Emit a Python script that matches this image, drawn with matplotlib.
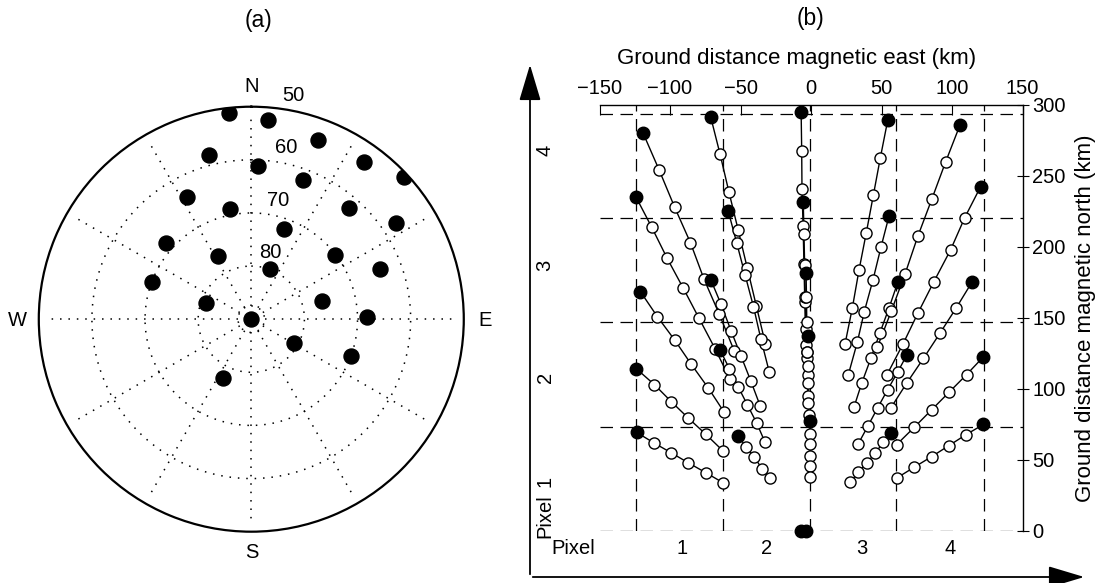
import numpy as np
import matplotlib
matplotlib.use('Agg')
import matplotlib.pyplot as plt

plt.rcParams['font.family'] = ['Liberation Sans', 'DejaVu Sans']

# (a) beam directions: azimuth (deg clockwise from N) and elevation (deg)
beam_az = [353.9, 4.9, 20.5, 345.5, 2.6, 35.6, 47.1, 20.3, 332.2, 349.0, 41.4, 20.2, 56.4,
           311.7, 332.4, 52.5, 20.4, 68.7, 290.7, 290.3, 75.3, 0.0, 88.8, 118.7, 110.3, 205.8]
beam_el = [50.9, 52.3, 53.9, 58.1, 61.2, 53.7, 50.8, 62.0, 63.9, 68.9, 62.1, 71.9, 57.3,
           68.5, 76.5, 70.1, 79.9, 63.9, 70.0, 81.0, 76.3, 90.0, 68.2, 80.8, 70.0, 77.6]
ring_labels = [50, 60, 70, 80]

# (b) beam tracks: first point is the filled one, the rest are open circles (km)
pixel1_tracks = [
    ([-119, -107.6, -96.7, -85.5, -75.9, -65, -54.4], [280, 254, 228, 203, 177.4, 152.6, 126.7]),
    ([-124.3, -113, -102, -90.6, -79.4, -68, -57.4], [235.5, 214, 192, 171, 149.8, 128.3, 106.9]),
    ([-121, -109, -96.7, -85, -72.7, -61.5], [168.6, 151, 134.5, 117.5, 100.5, 83.5]),
    ([-124, -111, -99, -87, -74.5, -62.5], [114.4, 103, 91, 79.5, 68, 56.5]),
    ([-123.6, -111, -99, -87, -74.5, -62.4], [69.4, 61.8, 55, 48, 41, 34]),
]
pixel2_tracks = [
    ([-71.1, -64.5, -58.2, -51.6, -45.2, -38.8, -32.4], [291.4, 265.4, 238.7, 211.8, 185.2, 158.6, 132]),
    ([-58.7, -52.7, -46.8, -40.8, -35.5, -29.6], [225.3, 202.9, 180.5, 158, 135, 112]),
    ([-71.1, -63.8, -56.7, -49.6, -42.6, -36], [177, 159.7, 141, 123.1, 105.4, 88]),
    ([-64.5, -57.9, -51.6, -45.2, -38.5, -32.6], [127.4, 114.4, 101.4, 89, 76, 62.5]),
    ([-51.6, -46, -40.3, -34.7, -29.2], [66.7, 59.3, 51.9, 44, 37]),
]
center_tracks = [
    ([-7, -6.6, -6.4, -5.6, -5, -4.4, -3.8], [295, 267.7, 241, 214.5, 188, 161.5, 131]),
    ([-5.5, -5, -4.5, -4, -3.5, -3], [232, 209.5, 187, 164.5, 142, 122]),
    ([-3.5, -3.2, -3, -2.7, -2.4, -2.1], [182, 164.5, 147, 126, 110, 95]),
    ([-2.3, -2.5, -2.3, -2.1, -1.9, -1.7], [137, 126, 116, 104, 90, 82]),
    ([-0.7, -0.7, -0.7, -0.6, -0.6, -0.5], [77.4, 68.4, 61.4, 53.1, 46, 38.2]),
]
pixel3_tracks = [
    ([54.4, 49.2, 44.2, 39.2, 34, 29.3, 24.1], [289.2, 263, 236.4, 210, 183.5, 157, 131.6]),
    ([55.3, 49.6, 44, 37.8, 32.8, 26.5], [221.7, 199.8, 177, 154.5, 132.8, 110.2]),
    ([61.5, 55.3, 48.9, 42.6, 36, 30.5], [175, 157, 139.6, 122, 104.2, 87.3]),
    ([67.9, 61.5, 54.4, 47.3, 40.2, 33.5], [123.8, 112, 99.6, 86.8, 73.6, 61.4]),
    ([56.5, 51.3, 45.4, 39.5, 33.5, 27.7], [69.1, 62.5, 54.7, 47.9, 41.3, 34.2]),
]
pixel4_tracks = [
    ([105.7, 95.5, 85.6, 75.7, 66.7, 57, 47], [286, 260, 233.5, 207.4, 181, 155, 129.3]),
    ([120.3, 109, 99, 87.2, 76, 65.2, 53.7], [242.5, 220.6, 198, 175.7, 153.8, 131.6, 109.7]),
    ([114, 102.8, 91.4, 79.7, 67.9, 56.7], [175, 156.8, 139.2, 121.5, 104.2, 86.8]),
    ([122.2, 110.4, 97.9, 85.6, 73.3, 60.8], [122.6, 110.2, 97.7, 85.4, 73.1, 60.9]),
    ([122.2, 109.7, 97.9, 85.6, 73, 60.8], [75, 67.7, 60.2, 52.4, 44.8, 37.3]),
]
zenith_x = [-7, -3.5]
zenith_y = [0, 0]

row_edges = [0, 73.5, 147, 220.5, 294]
col_edges = [-124, -62.5, -1, 60.5, 122.5]
pixel_labels = ['1', '2', '3', '4']

W, H = 1099, 583
fig = plt.figure(figsize=(W / 100, H / 100), dpi=100)
FS = 14.5


def ftext(px, py, s, **kw):
    fig.text(px / W, 1 - py / H, s, ha='center', va='center', **kw)


# ---------------- (a) ----------------
axa = fig.add_axes([0.0353, 0.088, 0.3867, 0.729], projection='polar')
axa.set_theta_zero_location('N')
axa.set_theta_direction(-1)
axa.set_rlim(0, 40)
axa.grid(False)
axa.set_xticks([])
axa.set_yticks([])
axa.spines['polar'].set_linewidth(1.6)

dot = dict(color='k', lw=1.1, ls=(0, (1, 4.5)))
th = np.linspace(0, 2 * np.pi, 400)
for z in [2.5, 10, 20, 30]:
    axa.plot(th, np.full_like(th, z), **dot)
for az in range(0, 360, 30):
    axa.plot([np.radians(az)] * 2, [2.5, 38.8], **dot)

axa.plot(np.radians(beam_az), 90 - np.array(beam_el), 'o', color='k', ms=10.8)

lab_pos = [(293, 95), (285.7, 147.3), (278.3, 200), (270.7, 252.7)]
for lab, (px, py) in zip(ring_labels, lab_pos):
    ftext(px, py, str(lab), fontsize=FS)

ftext(251.7, 86, 'N', fontsize=FS)
ftext(251.7, 553, 'S', fontsize=FS)
ftext(17, 320, 'W', fontsize=FS)
ftext(485, 320, 'E', fontsize=FS)
ftext(258, 20, '(a)', fontsize=16.5)

# ---------------- (b) ----------------
axb = fig.add_axes([0.5455, 0.0892, 0.3849, 0.7307])
axb.set_xlim(-150, 150)
axb.set_ylim(0, 300)
for s in ['left', 'bottom']:
    axb.spines[s].set_visible(False)
for s in ['top', 'right']:
    axb.spines[s].set_linewidth(1.0)
axb.xaxis.tick_top()
axb.yaxis.tick_right()
axb.set_xticks(np.arange(-150, 151, 50))
axb.set_yticks(np.arange(0, 301, 50))
axb.tick_params(axis='x', direction='in', length=7, labelsize=FS, pad=5)
axb.tick_params(axis='y', direction='inout', length=8, labelsize=FS, pad=3)
axb.xaxis.set_label_position('top')
axb.yaxis.set_label_position('right')
axb.set_xlabel('Ground distance magnetic east (km)', fontsize=16)
axb.set_ylabel('Ground distance magnetic north (km)', fontsize=16, labelpad=7)
axb.xaxis.set_label_coords(0.465, 1.096)

dash = dict(color='k', lw=0.9, ls=(0, (10, 6)), zorder=1)
for yv in row_edges:
    axb.axhline(yv, **dash)
for xv in col_edges:
    axb.axvline(xv, **dash)

for group in [pixel1_tracks, pixel2_tracks, center_tracks, pixel3_tracks, pixel4_tracks]:
    for xs, ys in group:
        axb.plot(xs, ys, '-', color='k', lw=1.0, zorder=2)
        axb.plot(xs[1:], ys[1:], 'o', mfc='white', mec='k', mew=1.0, ms=8, zorder=3)
        axb.plot(xs[0], ys[0], 'o', color='k', ms=9, zorder=4, clip_on=False)
axb.plot(zenith_x, zenith_y, 'o', color='k', ms=9, zorder=4, clip_on=False)

ftext(810, 18, '(b)', fontsize=16.5)

# arrows and pixel labels
arrow = dict(arrowstyle='-|>,head_length=1.5,head_width=0.45', mutation_scale=15, lw=1.3, color='k')
axb.annotate('', xy=(530, H - 62), xytext=(530, H - 577), xycoords='figure pixels',
             textcoords='figure pixels', arrowprops=arrow)
axb.annotate('', xy=(1087, H - 577), xytext=(530, H - 577), xycoords='figure pixels',
             textcoords='figure pixels', arrowprops=arrow)

ftext(545, 516, 'Pixel', fontsize=FS, rotation=90)
for lab, py in zip(pixel_labels, [481, 377, 265, 150]):
    ftext(545, py, lab, fontsize=FS, rotation=90)
ftext(573, 548, 'Pixel', fontsize=FS)
for lab, px in zip(pixel_labels, [682, 767, 862, 950]):
    ftext(px, 548, lab, fontsize=FS)

fig.savefig('out.png', dpi=100)
